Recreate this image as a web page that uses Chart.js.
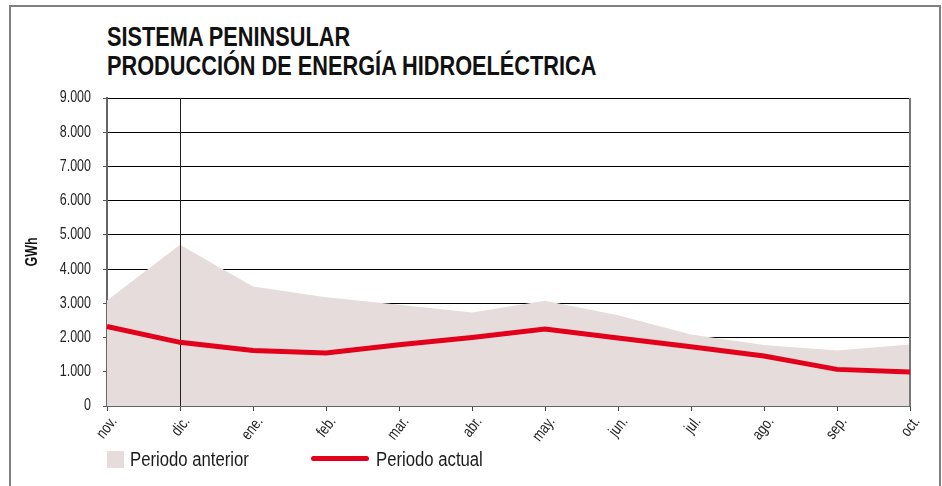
<!DOCTYPE html>
<html>
<head>
<meta charset="utf-8">
<script src="https://cdn.jsdelivr.net/npm/chart.js@4.4.1/dist/chart.umd.min.js"></script>
<style>
  html, body { margin: 0; padding: 0; background: #fff; }
  body { width: 942px; height: 486px; position: relative; overflow: hidden;
         font-family: 'Liberation Sans', Arial, sans-serif; color: #1a1a1a; }
  .frame { position: absolute; left: 9px; top: 5px; width: 932px; height: 520px;
           border: 2px solid #808080; box-sizing: border-box; }
  .title { position: absolute; left: 107px; top: 23px; font-size: 27px; line-height: 28.5px;
           font-weight: bold; color: #111; white-space: nowrap; transform-origin: 0 0; }
  canvas { position: absolute; left: 0; top: 0; }
  .leg { position: absolute; font-size: 19.5px; line-height: 20px; top: 449px; white-space: nowrap;
         transform: scaleX(0.857); transform-origin: 0 0; color: #1a1a1a; }
  .swatch { position: absolute; }
</style>
</head>
<body>
<div class="frame"></div>
<div class="title" id="title">SISTEMA PENINSULAR<br>PRODUCCIÓN DE ENERGÍA HIDROELÉCTRICA</div>
<canvas id="chart" width="942" height="486"></canvas>
<div id="legend"></div>
<script>
const months = ['nov.', 'dic.', 'ene.', 'feb.', 'mar.', 'abr.', 'may.', 'jun.', 'jul.', 'ago.', 'sep.', 'oct.'];
const periodoAnterior = [3080, 4710, 3490, 3180, 2960, 2735, 3075, 2650, 2090, 1780, 1620, 1800];
const periodoActual = [2325, 1860, 1620, 1550, 1790, 2000, 2250, 1990, 1730, 1460, 1070, 990];

const fillColor = '#e6dcdb';
const redColor = '#e2001a';
const narrow = 0.78; // squeeze Liberation Sans to look like a condensed face

Chart.defaults.font.family = "'Liberation Sans', Arial, sans-serif";
Chart.defaults.color = '#222';

const fmt = (v) => String(v).replace(/\B(?=(\d{3})+(?!\d))/g, '.');

// title: squeeze to the condensed width of the original
const titleEl = document.getElementById('title');
const mctx = document.createElement('canvas').getContext('2d');
mctx.font = "bold 27px 'Liberation Sans', Arial, sans-serif";
const w2 = mctx.measureText('PRODUCCIÓN DE ENERGÍA HIDROELÉCTRICA').width;
titleEl.style.transform = 'scaleX(' + (490 / w2).toFixed(3) + ')';

// condensed canvas text
const condense = {
    id: 'condense',
    beforeDraw(chart) {
        const c = chart.ctx;
        if (c._condensed) return;
        c._condensed = true;
        const orig = c.fillText;
        c.fillText = function (text, x, y, maxWidth) {
            this.save();
            this.translate(x, y);
            this.scale(narrow, 1);
            if (maxWidth === undefined) orig.call(this, text, 0, 0);
            else orig.call(this, text, 0, 0, maxWidth / narrow);
            this.restore();
        };
    }
};

// vertical line at dic. and right border, over the area fill but under the red line
const vLines = {
    id: 'vLines',
    afterDatasetDraw(chart, args) {
        if (args.index !== 0) return;
        const ctx = chart.ctx;
        const area = chart.chartArea;
        const x = Math.round(chart.scales.x.getPixelForValue(1)) + 0.5;
        ctx.save();
        ctx.strokeStyle = '#222';
        ctx.lineWidth = 1;
        ctx.beginPath();
        ctx.moveTo(x, area.top);
        ctx.lineTo(x, area.bottom);
        ctx.stroke();
        ctx.strokeStyle = '#777';
        ctx.lineWidth = 2;
        ctx.beginPath();
        ctx.moveTo(area.right, area.top);
        ctx.lineTo(area.right, area.bottom);
        ctx.stroke();
        ctx.restore();
    }
};

const ctx = document.getElementById('chart').getContext('2d');
const chart = new Chart(ctx, {
    type: 'line',
    data: {
        labels: months,
        datasets: [{
            label: 'Periodo anterior',
            data: periodoAnterior,
            fill: 'origin',
            backgroundColor: fillColor,
            borderColor: fillColor,
            borderWidth: 0,
            pointRadius: 0,
            tension: 0,
            order: 1
        }, {
            label: 'Periodo actual',
            data: periodoActual,
            fill: false,
            borderColor: redColor,
            backgroundColor: redColor,
            borderWidth: 5,
            pointRadius: 0,
            tension: 0,
            order: 0
        }]
    },
    options: {
        responsive: false,
        animation: false,
        layout: { padding: { left: 0, top: 98, right: 32, bottom: 0 } },
        plugins: {
            legend: { display: false },
            tooltip: { enabled: false }
        },
        scales: {
            x: {
                grid: { drawOnChartArea: false, tickLength: 5, tickColor: '#444' },
                border: { color: '#666', width: 2 },
                ticks: {
                    autoSkip: false, minRotation: 52, maxRotation: 52, padding: 2, labelOffset: 7,
                    font: { size: 16 }, color: '#222'
                },
                afterFit: (scale) => { scale.height = 80; }
            },
            y: {
                min: 0,
                max: 9000,
                grid: { color: '#000', lineWidth: 1, tickLength: 4, tickColor: '#555' },
                border: { color: '#666', width: 2 },
                ticks: { stepSize: 1000, padding: 12, font: { size: 16 }, color: '#222', callback: fmt },
                title: { display: true, text: 'GWh', font: { size: 16, weight: 'bold' }, color: '#111', padding: { top: 23, bottom: 0 } },
                afterFit: (scale) => { scale.width = 107; }
            }
        }
    },
    plugins: [condense, vLines]
});

// legend built from the datasets
const legend = document.getElementById('legend');
legend.innerHTML = `
  <div class="swatch" style="left:107px;top:451px;width:17px;height:17px;background:${chart.data.datasets[0].backgroundColor}"></div>
  <div class="leg" style="left:130px">${chart.data.datasets[0].label}</div>
  <div class="swatch" style="left:311px;top:456px;width:58px;height:5px;border-radius:2.5px;background:${chart.data.datasets[1].borderColor}"></div>
  <div class="leg" style="left:376px">${chart.data.datasets[1].label}</div>
`;
</script>
</body>
</html>
